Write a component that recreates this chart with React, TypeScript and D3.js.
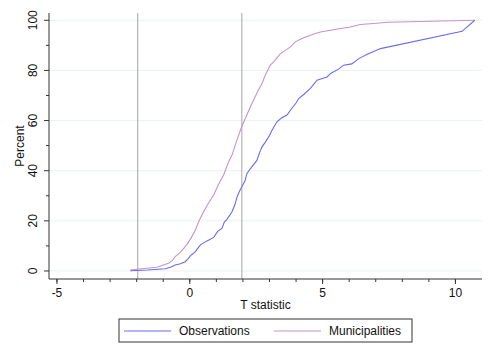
import * as d3 from "d3";

// Cumulative distribution of T statistics
const obsT = [
  -2.24, -1.6, -0.92, -0.7, -0.55, -0.35, -0.17, -0.05, 0.02, 0.2, 0.4, 0.65, 0.9, 1.05, 1.21, 1.3,
  1.4, 1.59, 1.7, 1.78, 1.88, 1.97, 2.08, 2.15, 2.3, 2.53, 2.62, 2.72, 2.85, 3.0, 3.1, 3.28, 3.45,
  3.66, 3.85, 4.0, 4.1, 4.3, 4.54, 4.79, 5.05, 5.17, 5.3, 5.6, 5.79, 6.1, 6.36, 6.7, 7.18, 10.25, 10.73,
];
const obsPct = [
  0.1, 0.4, 0.9, 1.6, 2.4, 2.9, 3.7, 5.0, 6.0, 7.6, 10.4, 12.0, 13.4, 15.8, 17.0, 19.5,
  20.6, 23.6, 26.5, 29.6, 32.0, 33.8, 36.0, 38.9, 41.0, 44.2, 47.0, 49.5, 51.5, 54.0, 56.2, 59.5, 61.0,
  62.2, 65.0, 67.0, 68.8, 70.5, 72.8, 76.1, 77.0, 77.4, 78.8, 80.5, 82.1, 82.6, 84.7, 86.5, 88.7, 95.6, 100,
];

const munT = [
  -2.24, -1.8, -1.24, -1.0, -0.8, -0.65, -0.55, -0.35, -0.11, 0.05, 0.21, 0.35, 0.52, 0.7, 0.9, 1.08,
  1.27, 1.46, 1.6, 1.75, 1.97, 2.1, 2.28, 2.4, 2.55, 2.72, 2.84, 3.03, 3.16, 3.41, 3.6, 3.79, 3.97,
  4.2, 4.41, 4.7, 4.92, 5.3, 5.67, 6.0, 6.42, 6.92, 7.43, 10.73,
];
const munPct = [
  0.4, 0.9, 1.5, 2.4, 3.1, 4.2, 5.7, 7.5, 10.5, 13.2, 16.3, 20.0, 23.6, 27.0, 30.3, 34.5,
  38.2, 43.5, 46.5, 51.5, 58.0, 61.0, 65.5, 68.1, 71.5, 74.8, 78.1, 82.1, 83.4, 86.7, 88.0, 89.4, 91.4,
  92.6, 93.5, 94.6, 95.3, 96.0, 96.7, 97.2, 98.3, 98.7, 99.2, 100,
];

const seriesNames = ["Observations", "Municipalities"];
const seriesColors = ["#6b6bf2", "#c792c9"];
const critical = [-1.96, 1.96];
const xMajor = [-5, 0, 5, 10];
const xMinor = d3.range(-5, 11, 1);
const yMajor = [0, 20, 40, 60, 80, 100];
const yMinor = [10, 30, 50, 70, 90];

const W = 495;
const H = 360;
const font = "'Liberation Sans', Arial, Helvetica, sans-serif";

export default function App() {
  const x = d3.scaleLinear().domain([-5.3, 11]).range([49, 482]);
  const y = d3.scaleLinear().domain([-3.2, 102.9]).range([279, 13]);
  const [x0, x1] = x.range();
  const [y0, y1] = y.range();

  const line = d3
    .line<[number, number]>()
    .x((d) => x(d[0]))
    .y((d) => y(d[1]));

  const series = [
    obsT.map((t, i) => [t, obsPct[i]] as [number, number]),
    munT.map((t, i) => [t, munPct[i]] as [number, number]),
  ];

  const legendX = 119;
  const legendY = 319;

  return (
    <svg
      width={W}
      height={H}
      style={{ position: "absolute", left: 0, top: 0, background: "#fff" }}
      fontFamily={font}
    >
      <rect width={W} height={H} fill="#fff" />
      {/* grid */}
      {yMajor.map((v) => (
        <line key={"g" + v} x1={x0} x2={x1} y1={y(v)} y2={y(v)} stroke="#eaf2f3" strokeWidth={1} />
      ))}
      {/* critical values */}
      {critical.map((c) => (
        <line key={"c" + c} x1={x(c)} x2={x(c)} y1={y1} y2={y0} stroke="#a6a6a6" strokeWidth={1} />
      ))}
      {/* curves, municipalities drawn first */}
      {[1, 0].map((i) => (
        <path key={"s" + i} d={line(series[i]) || ""} fill="none" stroke={seriesColors[i]} strokeWidth={1.1} />
      ))}
      {/* axes */}
      <line x1={x0} x2={x0} y1={y1} y2={y0} stroke="#333" />
      <line x1={x0} x2={x1} y1={y0} y2={y0} stroke="#333" />
      {yMajor.map((v) => (
        <g key={"yt" + v}>
          <line x1={x0 - 5} x2={x0} y1={y(v)} y2={y(v)} stroke="#333" />
          <text
            transform={`translate(${x0 - 12},${y(v)}) rotate(-90)`}
            textAnchor="middle"
            fontSize={12}
            fill="#111"
          >
            {v}
          </text>
        </g>
      ))}
      {yMinor.map((v) => (
        <line key={"ym" + v} x1={x0 - 3} x2={x0} y1={y(v)} y2={y(v)} stroke="#333" />
      ))}
      {xMinor.map((v) => (
        <line key={"xm" + v} x1={x(v)} x2={x(v)} y1={y0} y2={y0 + 3} stroke="#333" />
      ))}
      {xMajor.map((v) => (
        <g key={"xt" + v}>
          <line x1={x(v)} x2={x(v)} y1={y0} y2={y0 + 5} stroke="#333" />
          <text x={x(v)} y={y0 + 18} textAnchor="middle" fontSize={12} fill="#111">
            {v}
          </text>
        </g>
      ))}
      <text x={(x0 + x1) / 2} y={y0 + 30} textAnchor="middle" fontSize={12} fill="#111">
        T statistic
      </text>
      <text
        transform={`translate(${x0 - 25},${(y0 + y1) / 2}) rotate(-90)`}
        textAnchor="middle"
        fontSize={12}
        fill="#111"
      >
        Percent
      </text>
      {/* legend */}
      <rect x={legendX} y={legendY} width={293} height={23} fill="#fff" stroke="#333" />
      {seriesNames.map((name, i) => (
        <g key={"l" + i} transform={`translate(${legendX + 5 + i * 150},${legendY + 12})`}>
          <line x1={0} x2={47} y1={0} y2={0} stroke={seriesColors[i]} strokeWidth={1.1} />
          <text x={55} y={4} fontSize={12} fill="#111">
            {name}
          </text>
        </g>
      ))}
    </svg>
  );
}
